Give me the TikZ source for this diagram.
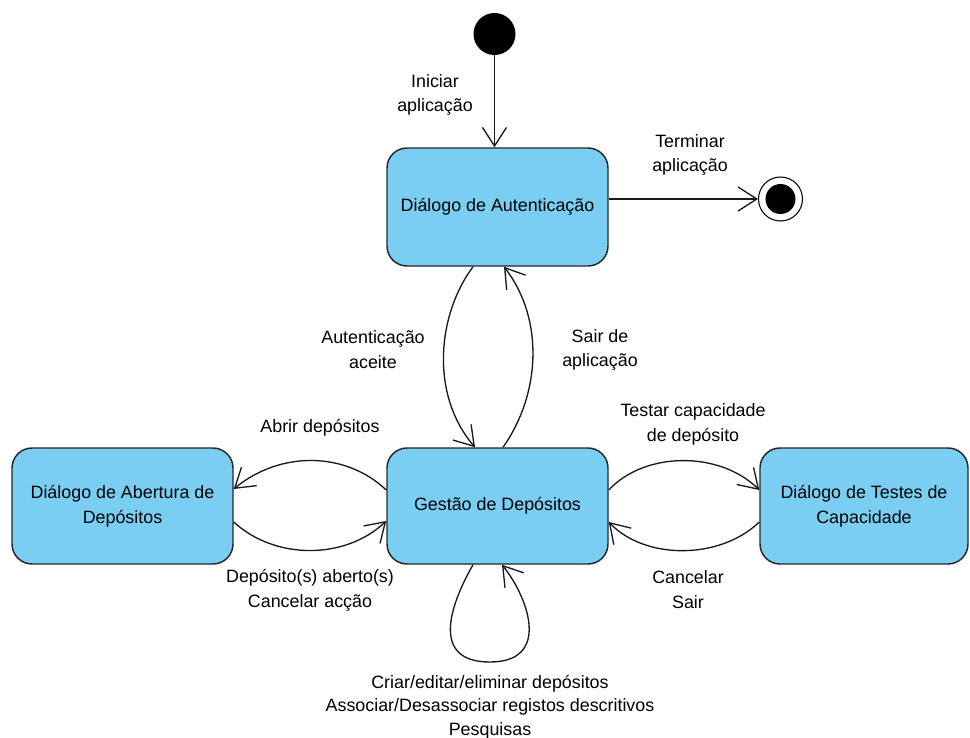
\documentclass[tikz,border=0pt]{standalone}
\usepackage{fontspec}
\setmainfont{Liberation Sans}
\usetikzlibrary{arrows.meta,calc}
\definecolor{boxblue}{RGB}{122,206,242}
\begin{document}
\begin{tikzpicture}[x=0.75pt,y=-0.75pt,
  txt/.style={font=\fontsize{13.4}{18.6}\selectfont, align=center},
  state/.style={txt, draw=black!85, fill=boxblue, rounded corners=15pt,
    minimum width=165.75pt, minimum height=87pt, line width=1.1pt, inner sep=0pt},
  lbl/.style={txt, inner sep=0pt},
  arr/.style={line width=1pt, draw=black!90, -{Straight Barb[length=14pt,width=18pt]}},
]
\useasboundingbox (0,0) rectangle (970,738);

% states
\node[state, minimum height=88.5pt] (auth) at (497.5,207) {Diálogo de Autenticação};
\node[state] (gest) at (497.5,506) {Gestão de Depósitos};
\node[state] (open) at (122.5,506) {Diálogo de Abertura de\\Depósitos};
\node[state, minimum width=156pt] (test) at (864,506) {Diálogo de Testes de\\Capacidade};

% initial and final
\node[circle, fill=black, minimum size=31.5pt, inner sep=0pt] (start) at (494.5,34) {};
\node[circle, draw=black, line width=0.8pt, fill=white, minimum size=33pt, inner sep=0pt] (end) at (780.5,199) {};
\fill[black] (end.center) circle[radius=11.25pt];

% start / end transitions
\draw[arr] (start) -- (start |- auth.north);
\node[lbl] (l-init) at (435,95) {Iniciar\\aplicação};
\draw[arr] (auth.east |- end.west) -- (end.west);
\node[lbl] (l-term) at (690,155) {Terminar\\aplicação};

% auth <-> gest
\coordinate (a1) at ($(auth.south)+(-24.5,0)$);
\coordinate (g1) at ($(gest.north)+(-22.5,0)$);
\coordinate (g2) at ($(gest.north)+(5.5,0)$);
\coordinate (a2) at ($(auth.south)+(6.5,0)$);
\draw[arr] (a1) .. controls (437,315) and (430,395) .. (g1);
\draw[arr] (g2) .. controls (540,395) and (545,320) .. (a2);
\node[lbl] (l-aceite) at (373,350) {Autenticação\\aceite};
\node[lbl] (l-sair) at (600,350) {Sair de\\aplicação};

% gest <-> open
\coordinate (g3) at ($(gest.west)+(0,-16)$);
\coordinate (o1) at ($(open.east)+(0,-17)$);
\coordinate (o2) at ($(open.east)+(0,16)$);
\coordinate (g4) at ($(gest.west)+(0,15)$);
\draw[arr] (g3) .. controls (345,451) and (280,451) .. (o1);
\draw[arr] (o2) .. controls (275,560) and (345,560) .. (g4);
\node[lbl] (l-abrir) at (320,428) {Abrir depósitos};
\node[lbl] (l-aberto) at (310,590) {Depósito(s) aberto(s)\\Cancelar acção};

% gest <-> test
\coordinate (g5) at ($(gest.east)+(0,-16)$);
\coordinate (t1) at ($(test.west)+(0,-16)$);
\coordinate (t2) at ($(test.west)+(0,16)$);
\coordinate (g6) at ($(gest.east)+(0,16)$);
\draw[arr] (g5) .. controls (645,451) and (720,451) .. (t1);
\draw[arr] (t2) .. controls (720,560) and (645,560) .. (g6);
\node[lbl] (l-testar) at (693,424) {Testar capacidade\\de depósito};
\node[lbl] (l-cancel) at (688,590) {Cancelar\\Sair};

% self loop
\coordinate (g7) at ($(gest.south)+(-24.5,0)$);
\coordinate (g8) at ($(gest.south)+(4.5,0)$);
\draw[arr] (g7) .. controls (450,605) and (430,662) .. (490,662)
                .. controls (550,662) and (530,600) .. (g8);
\node[txt, inner sep=0pt, font=\fontsize{13.4}{17.6}\selectfont] (l-loop) at (490,707) {Criar/editar/eliminar depósitos\\Associar/Desassociar registos descritivos\\Pesquisas};
\end{tikzpicture}
\end{document}
